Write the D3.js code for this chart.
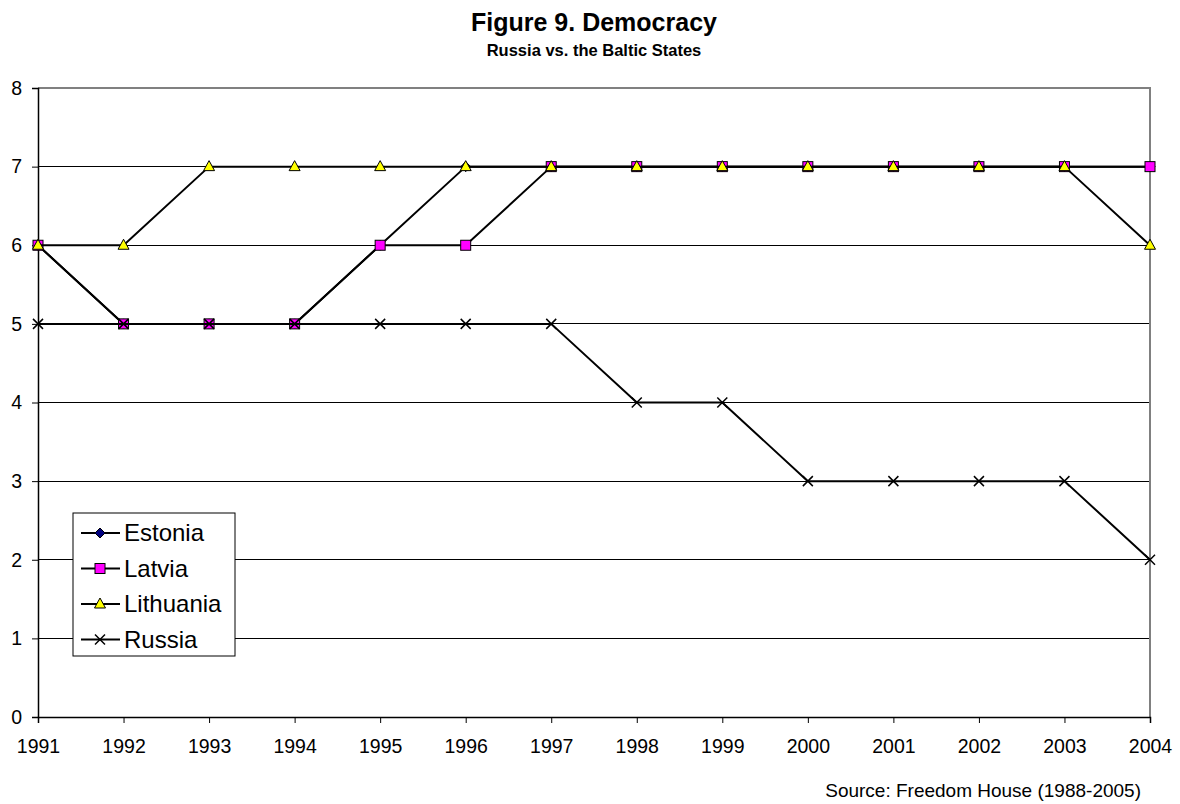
<!DOCTYPE html>
<html><head><meta charset="utf-8">
<script src="https://cdn.jsdelivr.net/npm/d3@7"></script>
<style>body{margin:0;background:#fff;}svg{display:block;font-family:Arial,"Liberation Sans",sans-serif;}</style>
</head><body><svg id="c" width="1180" height="804"></svg>
<script>
const years = [1991,1992,1993,1994,1995,1996,1997,1998,1999,2000,2001,2002,2003,2004];
const estonia   = [6,5,5,5,6,7,7,7,7,7,7,7,7,7];
const latvia    = [6,5,5,5,6,6,7,7,7,7,7,7,7,7];
const lithuania = [6,6,7,7,7,7,7,7,7,7,7,7,7,6];
const russia    = [5,5,5,5,5,5,5,4,4,3,3,3,3,2];
const yTicks = [0,1,2,3,4,5,6,7,8];
const seriesNames = ["Estonia","Latvia","Lithuania","Russia"];

const series = [
  {name:"Estonia", values:estonia, marker:"diamond", fill:"#000080"},
  {name:"Latvia", values:latvia, marker:"square", fill:"#FF00FF"},
  {name:"Lithuania", values:lithuania, marker:"triangle", fill:"#FFFF00"},
  {name:"Russia", values:russia, marker:"x", fill:"none"}
];

const svg = d3.select("#c");
const L=38, R=1150, T=88, B=717;
const x = d3.scalePoint().domain(years).range([L,R]);
const y = d3.scaleLinear().domain([0,8]).range([B,T]);

// gridlines
svg.append("g").selectAll("line").data(yTicks.filter(d=>d>0&&d<8)).join("line")
  .attr("x1",L).attr("x2",R).attr("y1",d=>y(d)).attr("y2",d=>y(d))
  .attr("stroke","#000").attr("stroke-width",1).attr("shape-rendering","crispEdges");
// border top/right gray
svg.append("path").attr("d",`M${L},${T}H${R}V${B}`).attr("fill","none")
  .attr("stroke","#808080").attr("stroke-width",1.5).attr("shape-rendering","crispEdges");

// axes
const yAxis = d3.axisLeft(y).tickValues(yTicks).tickSize(6).tickPadding(10).tickFormat(d3.format("d"));
const gy = svg.append("g").attr("transform",`translate(${L},0)`).call(yAxis);
const xAxis = d3.axisBottom(x).tickSize(6).tickPadding(16).tickFormat(d3.format("d"));
const gx = svg.append("g").attr("transform",`translate(0,${B})`).call(xAxis);
[gy,gx].forEach(g=>{
  g.select(".domain").attr("stroke","#000").attr("stroke-width",1.5);
  g.selectAll(".tick line").attr("stroke","#000").attr("stroke-width",1);
  g.selectAll("text").attr("font-size",19.5).attr("fill","#000").attr("font-family","Arial, 'Liberation Sans', sans-serif");
});

function drawMarker(g, type, fill, cx, cy){
  if(type==="square"){
    g.append("rect").attr("x",cx-5).attr("y",cy-5).attr("width",10).attr("height",10)
      .attr("fill",fill).attr("stroke","#000").attr("stroke-width",1);
  } else if(type==="triangle"){
    g.append("path").attr("d",`M${cx},${cy-6}L${cx+5.5},${cy+4}L${cx-5.5},${cy+4}Z`)
      .attr("fill",fill).attr("stroke","#000").attr("stroke-width",1);
  } else if(type==="diamond"){
    g.append("path").attr("d",`M${cx},${cy-5}L${cx+5},${cy}L${cx},${cy+5}L${cx-5},${cy}Z`)
      .attr("fill",fill).attr("stroke","#000").attr("stroke-width",1);
  } else if(type==="x"){
    g.append("path").attr("d",`M${cx-5},${cy-5}L${cx+5},${cy+5}M${cx-5},${cy+5}L${cx+5},${cy-5}`)
      .attr("stroke","#000").attr("stroke-width",1.5).attr("fill","none");
  }
}

const line = d3.line().x((d,i)=>x(years[i])).y(d=>y(d));
series.forEach(s=>{
  const g = svg.append("g");
  g.append("path").datum(s.values).attr("d",line).attr("fill","none")
    .attr("stroke","#000").attr("stroke-width",2);
  s.values.forEach((v,i)=>drawMarker(g,s.marker,s.fill,x(years[i]),y(v)));
});

// legend
const lg = svg.append("g");
lg.append("rect").attr("x",73).attr("y",513).attr("width",162).attr("height",143)
  .attr("fill","#fff").attr("stroke","#000").attr("stroke-width",1);
series.forEach((s,i)=>{
  const base = 541 + i*35.5;
  const cy = base - 8;
  lg.append("line").attr("x1",81).attr("x2",120).attr("y1",cy).attr("y2",cy)
    .attr("stroke","#000").attr("stroke-width",2);
  drawMarker(lg,s.marker,s.fill,100,cy);
  lg.append("text").attr("x",124).attr("y",base).attr("font-size",24).text(seriesNames[i]);
});

// titles
svg.append("text").attr("x",594).attr("y",31).attr("text-anchor","middle")
  .attr("font-size",25).attr("font-weight","bold").text("Figure 9. Democracy");
svg.append("text").attr("x",594).attr("y",56).attr("text-anchor","middle")
  .attr("font-size",16.5).attr("font-weight","bold").text("Russia vs. the Baltic States");
svg.append("text").attr("x",1141).attr("y",797).attr("text-anchor","end")
  .attr("font-size",19).text("Source: Freedom House (1988-2005)");
</script></body></html>
